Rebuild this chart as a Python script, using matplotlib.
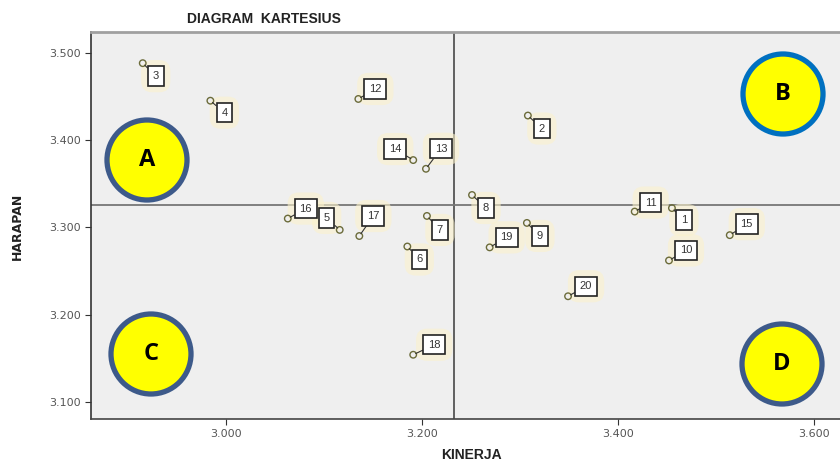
import matplotlib
matplotlib.use("Agg")
import matplotlib.pyplot as plt
from matplotlib.patches import Ellipse

# ---- data ----
labels = ["1", "2", "3", "4", "5", "6", "7", "8", "9", "10",
          "11", "12", "13", "14", "15", "16", "17", "18", "19", "20"]
kinerja = [3.455, 3.308, 2.915, 2.984, 3.116, 3.185, 3.205, 3.251, 3.307, 3.452,
           3.417, 3.135, 3.204, 3.191, 3.514, 3.063, 3.136, 3.191, 3.269, 3.349]
harapan = [3.322, 3.428, 3.488, 3.445, 3.297, 3.278, 3.313, 3.337, 3.305, 3.262,
           3.318, 3.447, 3.367, 3.377, 3.291, 3.310, 3.290, 3.154, 3.277, 3.221]
mean_kinerja = 3.2327
mean_harapan = 3.3255
x_ticks = [3.0, 3.2, 3.4, 3.6]
y_ticks = [3.1, 3.2, 3.3, 3.4, 3.5]
quadrants = ["A", "B", "C", "D"]
# ---------------------------------

# label box offsets in pixels (SPSS style placement)
label_dx = [12, 14, 13, 14, -13, 12, 13, 14, 13, 17, 16, 17, 15, -18, 17, 18, 14, 21, 17, 18]
label_dy = [-12, -13, -13, -12, 12, -13, -14, -13, -13, 10, 9, 10, 20, 11, 11, 10, 20, 10, 10, 10]

fig = plt.figure(figsize=(8.4, 4.61), dpi=100)
ax = fig.add_axes([91 / 840, 1 - 419 / 461, (840 - 91) / 840, (419 - 32) / 461])
ax.set_facecolor("#efefef")

ax.axvline(mean_kinerja, color="#555555", lw=1.3, zorder=1)
ax.axhline(mean_harapan, color="#777777", lw=1.3, zorder=1)

ax.scatter(kinerja, harapan, s=22, facecolors="none", edgecolors="#6b6b3a",
           linewidths=1.0, zorder=3)

for lab, x, y, dx, dy in zip(labels, kinerja, harapan, label_dx, label_dy):
    # soft yellow halo
    ax.annotate(lab, (x, y), xytext=(dx, dy), textcoords="offset pixels",
                ha="center", va="center", fontsize=8, color="none",
                bbox=dict(boxstyle="round,pad=1.0", fc="#fbf2cc", ec="none", alpha=0.6),
                zorder=2)
    ax.annotate(lab, (x, y), xytext=(dx, dy), textcoords="offset pixels",
                ha="center", va="center", fontsize=8, color="#333333",
                family="Liberation Sans",
                bbox=dict(boxstyle="square,pad=0.42", fc="white", ec="#222222", lw=1.2),
                arrowprops=dict(arrowstyle="-", color="#333333", lw=0.8,
                                shrinkA=0, shrinkB=2),
                zorder=4)

ax.set_xlim(2.8622, 3.6265)
ax.set_ylim(3.0804, 3.5237)
ax.set_xticks(x_ticks)
ax.set_xticklabels([f"{v:.3f}" for v in x_ticks])
ax.set_yticks(y_ticks)
ax.set_yticklabels([f"{v:.3f}" for v in y_ticks])
ax.tick_params(direction="out", length=4, width=0.8, colors="#333333",
               labelsize=8, labelcolor="#555555")

ax.spines["right"].set_visible(False)
ax.spines["top"].set_color("#a0a0a0")
ax.spines["top"].set_linewidth(2)
ax.spines["left"].set_color("#333333")
ax.spines["bottom"].set_color("#444444")
ax.spines["left"].set_linewidth(1.2)
ax.spines["bottom"].set_linewidth(1.2)

fig.text(264 / 840, 1 - 19 / 461, "DIAGRAM  KARTESIUS", ha="center", va="center",
         fontsize=10, fontweight="bold", family="Liberation Sans", color="#222222")
fig.text(471 / 840, 1 - 455 / 461, "KINERJA", ha="center", va="center",
         fontsize=10, fontweight="bold", family="Liberation Sans", color="#222222")
fig.text(17 / 840, 1 - 226 / 461, "HARAPAN", ha="center", va="center", rotation=90,
         fontsize=9, fontweight="bold", family=["Liberation Sans Narrow", "DejaVu Sans"],
         color="#222222")

# quadrant markers
centers = [(147, 160), (783, 94), (151, 354), (782, 364)]
edges = ["#3d5a8a", "#0070c0", "#3d5a8a", "#3d5a8a"]
for q, (cx, cy), ec in zip(quadrants, centers, edges):
    fx, fy = cx / 840, 1 - cy / 461
    fig.add_artist(Ellipse((fx, fy), 80 / 840, 80 / 461, transform=fig.transFigure,
                           fc="#ffff00", ec=ec, lw=3.8, zorder=10))
    fig.text(fx, fy, q, ha="center", va="center", fontsize=17, fontweight="bold",
             family="Open Sans", color="black", zorder=11)

fig.savefig("out.png", dpi=100)
